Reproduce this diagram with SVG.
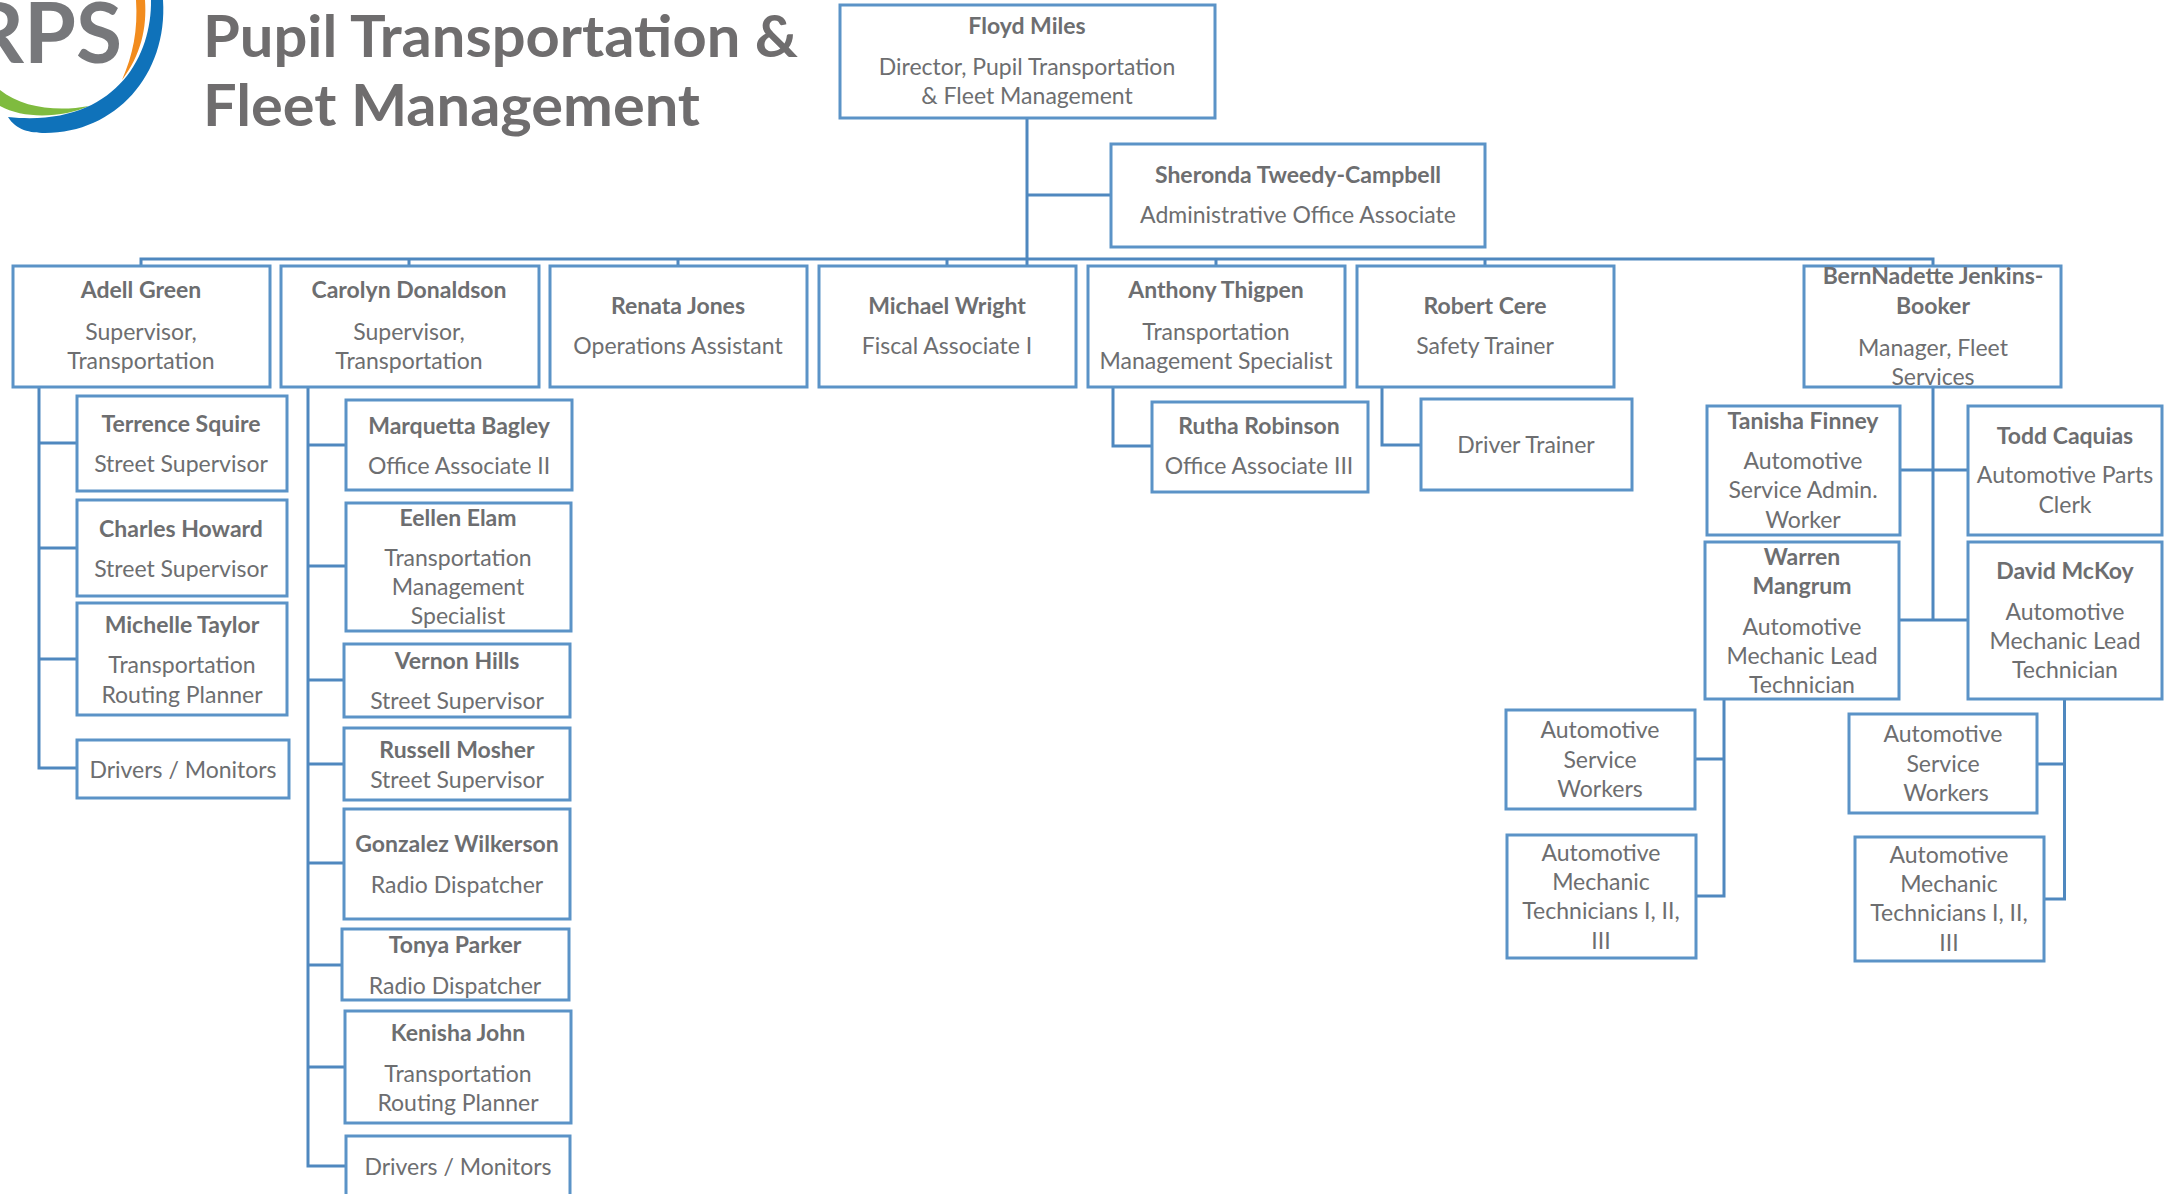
<svg xmlns="http://www.w3.org/2000/svg" width="2174" height="1194" viewBox="0 0 2174 1194">
<style>
text{font-family:"Lato","Carlito","Liberation Sans",sans-serif;fill:#6d6e70;text-anchor:middle;font-size:23px}
.n{font-weight:700}
.t{font-weight:700;font-size:58px;text-anchor:start;fill:#6f6d6e}
.b{fill:#fff;stroke:#5b93c7;stroke-width:3}
.c{fill:none;stroke:#4f88bf;stroke-width:3}
</style>
<rect width="2174" height="1194" fill="#fff"/>
<g id="logo">
<path d="M136 0C138 30 133 55 122 80C141 55 147 28 145 0Z" fill="#f28c1e"/>
<path d="M0 90C22 108 58 112 89 106C65 117 25 120 0 106Z" fill="#7fbb3f"/>
<path d="M151 0C152 60 112 128 8 117C16 130 30 133 45 133C115 133 168 75 163 0Z" fill="#0f72ba"/>
<text x="122" y="63" style="text-anchor:end;font-size:84px;font-weight:700;fill:#77787b">RPS</text>
</g>
<g id="title">
<text class="t" x="203" y="57" textLength="595" lengthAdjust="spacingAndGlyphs">Pupil Transportation &amp;</text>
<text class="t" x="203" y="126" textLength="497" lengthAdjust="spacingAndGlyphs">Fleet Management</text>
</g>
<g id="connectors" class="c">
<path class="c" d="M1027 118V266M1027 195H1111"/>
<path class="c" d="M141 266V259H1933V266M409 259V266M678 259V266M947 259V266M1216 259V266M1485 259V266"/>
<path class="c" d="M39 387V768H77M39 443H77M39 548H77M39 659H77"/>
<path class="c" d="M308 387V1166H346M308 445H346M308 566H346M308 680H344M308 764H344M308 863H344M308 965H342M308 1067H345"/>
<path class="c" d="M1113 387V446H1152"/>
<path class="c" d="M1382 387V445H1421"/>
<path class="c" d="M1933 387V620M1900 470H1968M1899 620H1968"/>
<path class="c" d="M1724 699V896H1696M1724 759H1695"/>
<path class="c" d="M2064.500 699V899H2044M2064.500 764H2037"/>
</g>
<g id="floyd"><rect class="b" x="840" y="5" width="375" height="113"/><text class="n" x="1027" y="34">Floyd Miles</text><text x="1027" y="75">Director, Pupil Transportation</text><text x="1027" y="104">&amp; Fleet Management</text></g>
<g id="sheronda"><rect class="b" x="1111" y="144" width="374" height="103"/><text class="n" x="1298" y="183">Sheronda Tweedy-Campbell</text><text x="1298" y="223">Administrative Office Associate</text></g>
<g id="adell"><rect class="b" x="13" y="266" width="257" height="121"/><text class="n" x="141" y="298">Adell Green</text><text x="141" y="340">Supervisor,</text><text x="141" y="369">Transportation</text></g>
<g id="carolyn"><rect class="b" x="281" y="266" width="258" height="121"/><text class="n" x="409" y="298">Carolyn Donaldson</text><text x="409" y="340">Supervisor,</text><text x="409" y="369">Transportation</text></g>
<g id="renata"><rect class="b" x="550" y="266" width="257" height="121"/><text class="n" x="678" y="314">Renata Jones</text><text x="678" y="354">Operations Assistant</text></g>
<g id="michael"><rect class="b" x="819" y="266" width="257" height="121"/><text class="n" x="947" y="314">Michael Wright</text><text x="947" y="354">Fiscal Associate I</text></g>
<g id="anthony"><rect class="b" x="1088" y="266" width="257" height="121"/><text class="n" x="1216" y="298">Anthony Thigpen</text><text x="1216" y="340">Transportation</text><text x="1216" y="369">Management Specialist</text></g>
<g id="robert"><rect class="b" x="1357" y="266" width="257" height="121"/><text class="n" x="1485" y="314">Robert Cere</text><text x="1485" y="354">Safety Trainer</text></g>
<g id="bernnadette"><rect class="b" x="1804" y="266" width="257" height="121"/><text class="n" x="1933" y="284">BernNadette Jenkins-</text><text class="n" x="1933" y="314">Booker</text><text x="1933" y="356">Manager, Fleet</text><text x="1933" y="385">Services</text></g>
<g id="terrence"><rect class="b" x="77" y="396" width="210" height="95"/><text class="n" x="181" y="432">Terrence Squire</text><text x="181" y="472">Street Supervisor</text></g>
<g id="charles"><rect class="b" x="77" y="500" width="210" height="96"/><text class="n" x="181" y="537">Charles Howard</text><text x="181" y="577">Street Supervisor</text></g>
<g id="michelle"><rect class="b" x="77" y="603" width="210" height="112"/><text class="n" x="182" y="633">Michelle Taylor</text><text x="182" y="673">Transportation</text><text x="182" y="703">Routing Planner</text></g>
<g id="drivers1"><rect class="b" x="77" y="740" width="212" height="58"/><text x="183" y="778">Drivers / Monitors</text></g>
<g id="marquetta"><rect class="b" x="346" y="400" width="226" height="90"/><text class="n" x="459" y="434">Marquetta Bagley</text><text x="459" y="474">Office Associate II</text></g>
<g id="elleen"><rect class="b" x="346" y="503" width="225" height="128"/><text class="n" x="458" y="526">Eellen Elam</text><text x="458" y="566">Transportation</text><text x="458" y="595">Management</text><text x="458" y="624">Specialist</text></g>
<g id="vernon"><rect class="b" x="344" y="644" width="226" height="73"/><text class="n" x="457" y="669">Vernon Hills</text><text x="457" y="709">Street Supervisor</text></g>
<g id="russell"><rect class="b" x="344" y="728" width="226" height="72"/><text class="n" x="457" y="758">Russell Mosher</text><text x="457" y="788">Street Supervisor</text></g>
<g id="gonzalez"><rect class="b" x="344" y="809" width="226" height="110"/><text class="n" x="457" y="852">Gonzalez Wilkerson</text><text x="457" y="893">Radio Dispatcher</text></g>
<g id="tonya"><rect class="b" x="342" y="929" width="227" height="71"/><text class="n" x="455" y="953">Tonya Parker</text><text x="455" y="994">Radio Dispatcher</text></g>
<g id="kenisha"><rect class="b" x="345" y="1011" width="226" height="112"/><text class="n" x="458" y="1041">Kenisha John</text><text x="458" y="1082">Transportation</text><text x="458" y="1111">Routing Planner</text></g>
<g id="drivers2"><rect class="b" x="346" y="1136" width="224" height="70"/><text x="458" y="1175">Drivers / Monitors</text></g>
<g id="rutha"><rect class="b" x="1152" y="402" width="216" height="90"/><text class="n" x="1259" y="434">Rutha Robinson</text><text x="1259" y="474">Office Associate III</text></g>
<g id="drivertrainer"><rect class="b" x="1421" y="399" width="211" height="91"/><text x="1526" y="453">Driver Trainer</text></g>
<g id="tanisha"><rect class="b" x="1707" y="406" width="193" height="129"/><text class="n" x="1803" y="429">Tanisha Finney</text><text x="1803" y="469">Automotive</text><text x="1803" y="498">Service Admin.</text><text x="1803" y="528">Worker</text></g>
<g id="todd"><rect class="b" x="1968" y="406" width="194" height="129"/><text class="n" x="2065" y="444">Todd Caquias</text><text x="2065" y="483">Automotive Parts</text><text x="2065" y="513">Clerk</text></g>
<g id="warren"><rect class="b" x="1705" y="542" width="194" height="157"/><text class="n" x="1802" y="565">Warren</text><text class="n" x="1802" y="594">Mangrum</text><text x="1802" y="635">Automotive</text><text x="1802" y="664">Mechanic Lead</text><text x="1802" y="693">Technician</text></g>
<g id="david"><rect class="b" x="1968" y="542" width="194" height="157"/><text class="n" x="2065" y="579">David McKoy</text><text x="2065" y="620">Automotive</text><text x="2065" y="649">Mechanic Lead</text><text x="2065" y="678">Technician</text></g>
<g id="asw1"><rect class="b" x="1506" y="710" width="189" height="99"/><text x="1600" y="738">Automotive</text><text x="1600" y="768">Service</text><text x="1600" y="797">Workers</text></g>
<g id="amt1"><rect class="b" x="1507" y="835" width="189" height="123"/><text x="1601" y="861">Automotive</text><text x="1601" y="890">Mechanic</text><text x="1601" y="919">Technicians I, II,</text><text x="1601" y="949">III</text></g>
<g id="asw2"><rect class="b" x="1849" y="714" width="188" height="99"/><text x="1943" y="742">Automotive</text><text x="1943" y="772">Service</text><text x="1946" y="801">Workers</text></g>
<g id="amt2"><rect class="b" x="1855" y="837" width="189" height="124"/><text x="1949" y="863">Automotive</text><text x="1949" y="892">Mechanic</text><text x="1949" y="921">Technicians I, II,</text><text x="1949" y="951">III</text></g>
</svg>
